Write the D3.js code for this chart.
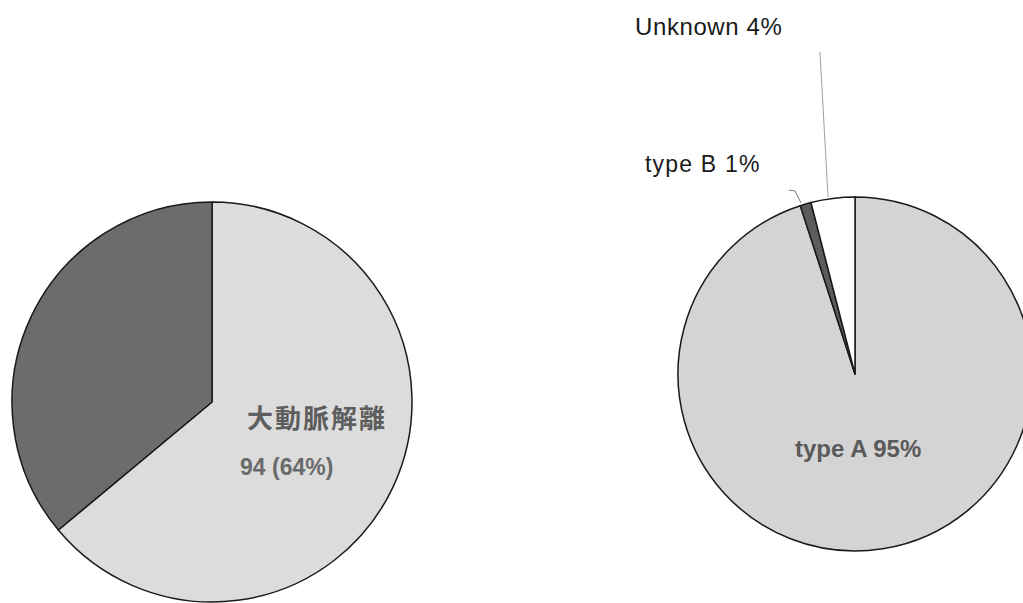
<!DOCTYPE html>
<html>
<head>
<meta charset="utf-8">
<script src="https://cdn.jsdelivr.net/npm/d3@7"></script>
<style>
  html, body { margin: 0; padding: 0; background: #fff; }
  svg { display: block; }
</style>
</head>
<body>
<svg id="chart" width="1023" height="603"></svg>
<script>
// Left pie: aortic dissection vs. the rest
const leftCategories = ["大動脈解離", "その他"];
const leftValues = [94, 53];
const leftLabelLines = ["大動脈解離", "94 (64%)"];

// Right pie: Stanford classification
const rightCategories = ["type A", "type B", "Unknown"];
const rightValues = [95, 1, 4];
const rightLabels = ["type A 95%", "type B 1%", "Unknown 4%"];

const svg = d3.select("#chart");

const pie = d3.pie().sort(null).value(d => d.value);

// ---- left pie ----
const leftData = leftCategories.map((c, i) => ({ name: c, value: leftValues[i] }));
const leftColor = d3.scaleOrdinal().domain(leftCategories).range(["#dcdcdc", "#6c6c6c"]);
const leftR = 200;
const leftArc = d3.arc().innerRadius(0).outerRadius(leftR);
const gL = svg.append("g").attr("transform", "translate(212,402)");

gL.selectAll("path")
  .data(pie(leftData))
  .join("path")
  .attr("d", leftArc)
  .attr("fill", d => leftColor(d.data.name))
  .attr("stroke", "#1a1a1a")
  .attr("stroke-width", 1.5)
  .attr("stroke-linejoin", "round");

gL.append("text")
  .attr("x", 35).attr("y", 26)
  .attr("font-family", "'Noto Sans CJK JP', sans-serif")
  .attr("font-weight", "bold")
  .attr("font-size", 26)
  .attr("letter-spacing", 2)
  .attr("fill", "#5e5e5e")
  .text(leftLabelLines[0]);

gL.append("text")
  .attr("x", 28).attr("y", 73)
  .attr("font-family", "'Liberation Sans', Arial, sans-serif")
  .attr("font-weight", "bold")
  .attr("font-size", 23)
  .attr("fill", "#6a6a6a")
  .text(leftLabelLines[1]);

// ---- right pie ----
const rightData = rightCategories.map((c, i) => ({ name: c, value: rightValues[i] }));
const rightColor = d3.scaleOrdinal().domain(rightCategories).range(["#d4d4d4", "#5c5c5c", "#ffffff"]);
const rightR = 177;
const rightArc = d3.arc().innerRadius(0).outerRadius(rightR);
const gR = svg.append("g").attr("transform", "translate(855,374)");

gR.selectAll("path")
  .data(pie(rightData))
  .join("path")
  .attr("d", rightArc)
  .attr("fill", d => rightColor(d.data.name))
  .attr("stroke", "#1a1a1a")
  .attr("stroke-width", 1.5)
  .attr("stroke-linejoin", "round");

// leader lines for the two thin slices
const leader = d3.line();
gR.append("path")
  .attr("d", leader([[-35, -322], [-27, -177]]))
  .attr("fill", "none").attr("stroke", "#888").attr("stroke-width", 0.8);
gR.append("path")
  .attr("d", leader([[-66, -184], [-60, -183], [-54, -171]]))
  .attr("fill", "none").attr("stroke", "#555").attr("stroke-width", 0.8);

// slice labels
gR.append("text")
  .attr("x", -60).attr("y", 83)
  .attr("font-family", "'Liberation Sans', Arial, sans-serif")
  .attr("font-weight", "bold")
  .attr("font-size", 24)
  .attr("fill", "#5a5a5a")
  .text(rightLabels[0]);

gR.append("text")
  .attr("x", -210).attr("y", -202)
  .attr("font-family", "'Liberation Sans', Arial, sans-serif")
  .attr("font-size", 23)
  .attr("letter-spacing", 1.2)
  .attr("fill", "#1a1a1a")
  .text(rightLabels[1]);

gR.append("text")
  .attr("x", -220).attr("y", -339)
  .attr("font-family", "'Liberation Sans', Arial, sans-serif")
  .attr("font-size", 24)
  .attr("letter-spacing", 0.6)
  .attr("fill", "#1a1a1a")
  .text(rightLabels[2]);
</script>
</body>
</html>
